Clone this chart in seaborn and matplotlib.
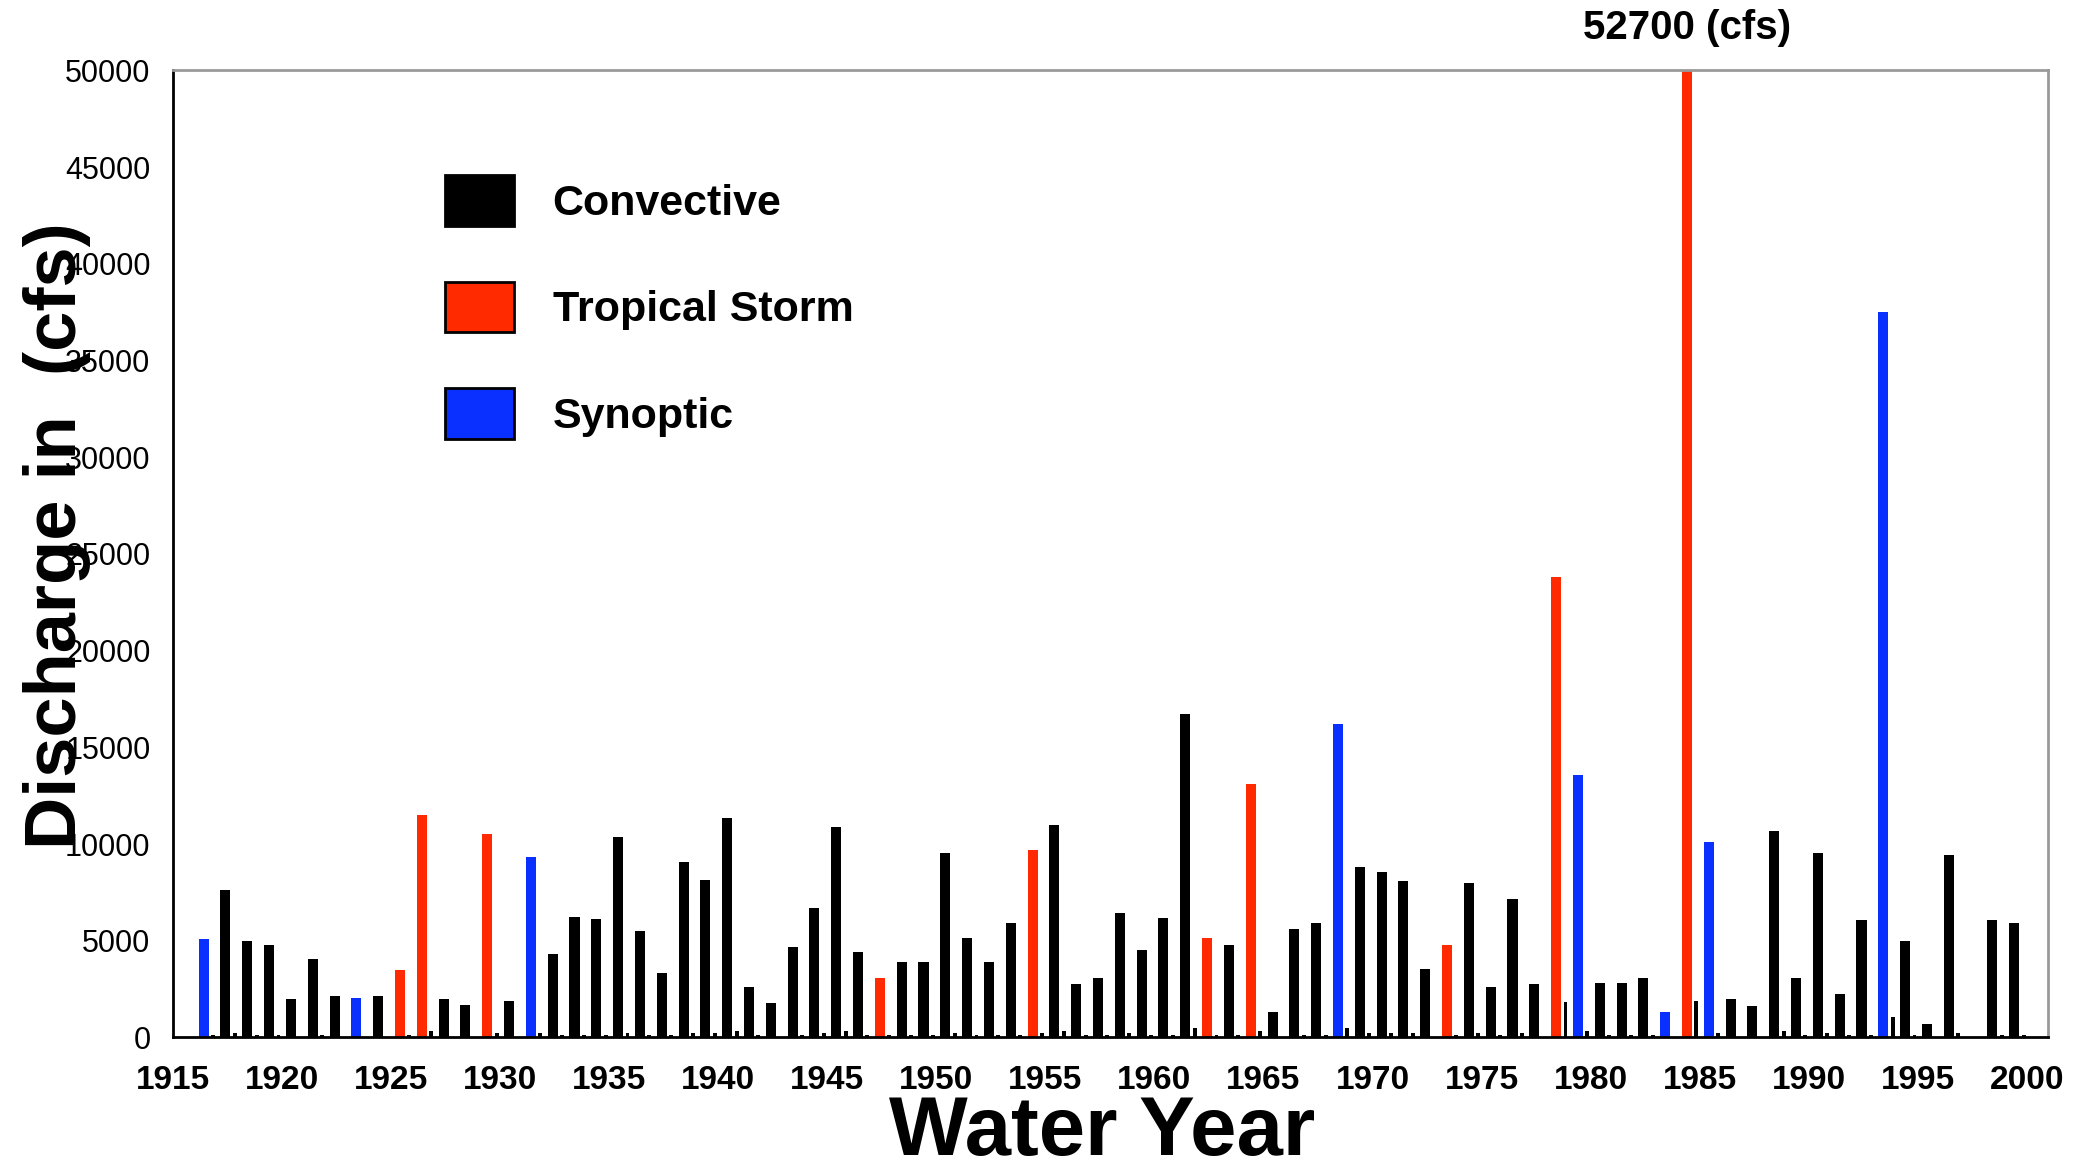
import matplotlib
matplotlib.use("Agg")
import matplotlib.pyplot as plt
from matplotlib import font_manager
from matplotlib.patches import Patch
import matplotlib.transforms as mtransforms
import seaborn as sns
import pandas as pd

# ---------------- data ----------------
years = list(range(1916, 1997)) + [1998, 1999]
discharge = [
    5100, 7650, 5000, 4780, 2000, 4050, 2130, 2030, 2130, 3470,   # 1916-1925
    11480, 2010, 1670, 10510, 1910, 9310, 4300, 6220, 6100, 10380, # 1926-1935
    5500, 3350, 9090, 8130, 11340, 2630, 1790, 4660, 6680, 10870,  # 1936-1945
    4400, 3090, 3920, 3920, 9540, 5120, 3920, 5940, 9670, 10980,   # 1946-1955
    2750, 3090, 6430, 4520, 6190, 16700, 5120, 4760, 13110, 1310,  # 1956-1965
    5600, 5940, 16220, 8810, 8570, 8090, 3560, 4760, 7990, 2610,   # 1966-1975
    7150, 2750, 23800, 13570, 2840, 2840, 3090, 1310, 52700, 10100,# 1976-1985
    1990, 1650, 10700, 3090, 9540, 2250, 6070, 37500, 5000, 700,   # 1986-1995
    9420, 6070, 5940,                                              # 1996, 1998, 1999
]
storm_type = [
    "Synoptic", "Convective", "Convective", "Convective", "Convective",
    "Convective", "Convective", "Synoptic", "Convective", "Tropical Storm",
    "Tropical Storm", "Convective", "Convective", "Tropical Storm", "Convective",
    "Synoptic", "Convective", "Convective", "Convective", "Convective",
    "Convective", "Convective", "Convective", "Convective", "Convective",
    "Convective", "Convective", "Convective", "Convective", "Convective",
    "Convective", "Tropical Storm", "Convective", "Convective", "Convective",
    "Convective", "Convective", "Convective", "Tropical Storm", "Convective",
    "Convective", "Convective", "Convective", "Convective", "Convective",
    "Convective", "Tropical Storm", "Convective", "Tropical Storm", "Convective",
    "Convective", "Convective", "Synoptic", "Convective", "Convective",
    "Convective", "Convective", "Tropical Storm", "Convective", "Convective",
    "Convective", "Convective", "Tropical Storm", "Synoptic", "Convective",
    "Convective", "Convective", "Synoptic", "Tropical Storm", "Synoptic",
    "Convective", "Convective", "Convective", "Convective", "Convective",
    "Convective", "Convective", "Synoptic", "Convective", "Convective",
    "Convective", "Convective", "Convective",
]
# small secondary bars next to each annual peak
small_years = list(range(1916, 2000))
small_values = [
    120, 240, 120, 120, 0, 120, 0, 0, 0, 120,          # 1916-1925
    360, 0, 0, 240, 0, 240, 120, 120, 120, 240,        # 1926-1935
    120, 120, 240, 240, 360, 120, 0, 120, 240, 360,    # 1936-1945
    120, 120, 120, 120, 240, 120, 120, 120, 240, 360,  # 1946-1955
    120, 120, 240, 120, 120, 480, 120, 120, 360, 0,    # 1956-1965
    120, 120, 480, 240, 240, 240, 0, 120, 240, 120,    # 1966-1975
    240, 0, 1850, 360, 120, 120, 120, 0, 1900, 240,    # 1976-1985
    0, 0, 360, 120, 240, 120, 120, 1080, 120, 0,       # 1986-1995
    240, 0, 120, 120,                                  # 1996-1999
]
type_order = ["Convective", "Tropical Storm", "Synoptic"]
type_colors = ["#000000", "#FF2A00", "#0A30FF"]
x_ticks = list(range(1915, 2001, 5))
y_ticks = list(range(0, 50001, 5000))
peak_label = "52700 (cfs)"
peak_year = 1984

# ---------------- fonts ----------------
def pick(fam, fallback):
    try:
        font_manager.findfont(font_manager.FontProperties(family=fam), fallback_to_default=False)
        return fam
    except Exception:
        return fallback

sns.set_theme(style="white")
base = pick("Liberation Sans", "DejaVu Sans")
narrow = pick("Liberation Sans Narrow", base)
plt.rcParams["font.family"] = [base, "DejaVu Sans"]
plt.rcParams.update({"text.color": "black", "axes.labelcolor": "black",
                     "xtick.color": "black", "ytick.color": "black"})

# ---------------- figure ----------------
fig = plt.figure(figsize=(20.83, 11.69), dpi=100)
ax = fig.add_axes([0.0829, 0.1125, 0.9001, 0.8273])

df = pd.DataFrame({"year": years, "discharge": discharge, "type": storm_type})
df["xpos"] = df["year"] + 0.42
sm = pd.DataFrame({"year": small_years, "value": small_values})
sm["xpos"] = sm["year"] + 0.85

sns.barplot(data=df, x="xpos", y="discharge", hue="type", hue_order=type_order,
            palette=dict(zip(type_order, type_colors)), native_scale=True,
            dodge=False, width=0.46, saturation=1, errorbar=None,
            linewidth=0, legend=False, ax=ax)
sns.barplot(data=sm, x="xpos", y="value", color="black", native_scale=True,
            width=0.18, saturation=1, errorbar=None, linewidth=0, ax=ax)

ax.set_xlim(1915, 2000.95)
ax.set_ylim(0, 50000)
ax.set_xticks(x_ticks)
ax.set_xticklabels([str(t) for t in x_ticks], fontfamily=narrow,
                   fontweight="bold", fontsize=24, color="black")
ax.set_yticks(y_ticks)
ax.set_yticklabels([str(t) for t in y_ticks], fontfamily=narrow, fontsize=22,
                   color="black")
ax.tick_params(axis="x", direction="out", length=10, width=2, pad=10, colors="black")
ax.tick_params(axis="y", direction="out", length=8, width=1.5, pad=8, colors="black")
ax.set_xlabel("")
ax.set_ylabel("")

for s in ["left", "bottom"]:
    ax.spines[s].set_color("black")
    ax.spines[s].set_linewidth(2)
for s in ["top", "right"]:
    ax.spines[s].set_color("#9a9a9a")
    ax.spines[s].set_linewidth(2)

trans = mtransforms.blended_transform_factory(ax.transData, fig.transFigure)
ax.text(peak_year + 0.42, 0.976, peak_label, transform=trans, ha="center",
        va="center", fontsize=29, fontweight="bold", color="black", clip_on=False)

fig.text(0.0275, 0.542, "Discharge in  (cfs)", rotation=90, ha="center", va="center",
         fontsize=52, fontweight="bold", color="black")
fig.text(0.529, 0.031, "Water Year", ha="center", va="center",
         fontsize=60, fontweight="bold", color="black")

handles = [Patch(facecolor=c, edgecolor="black", linewidth=2) for c in type_colors]
leg = ax.legend(handles, type_order, loc="upper left", bbox_to_anchor=(0.2136, 0.850),
                bbox_transform=fig.transFigure, frameon=False, borderpad=0,
                borderaxespad=0, handlelength=1.6, handleheight=1.43,
                labelspacing=1.3, handletextpad=0.9,
                prop={"weight": "bold", "size": 31, "family": base})
for t in leg.get_texts():
    t.set_color("black")

fig.savefig("out.png", dpi=100)
